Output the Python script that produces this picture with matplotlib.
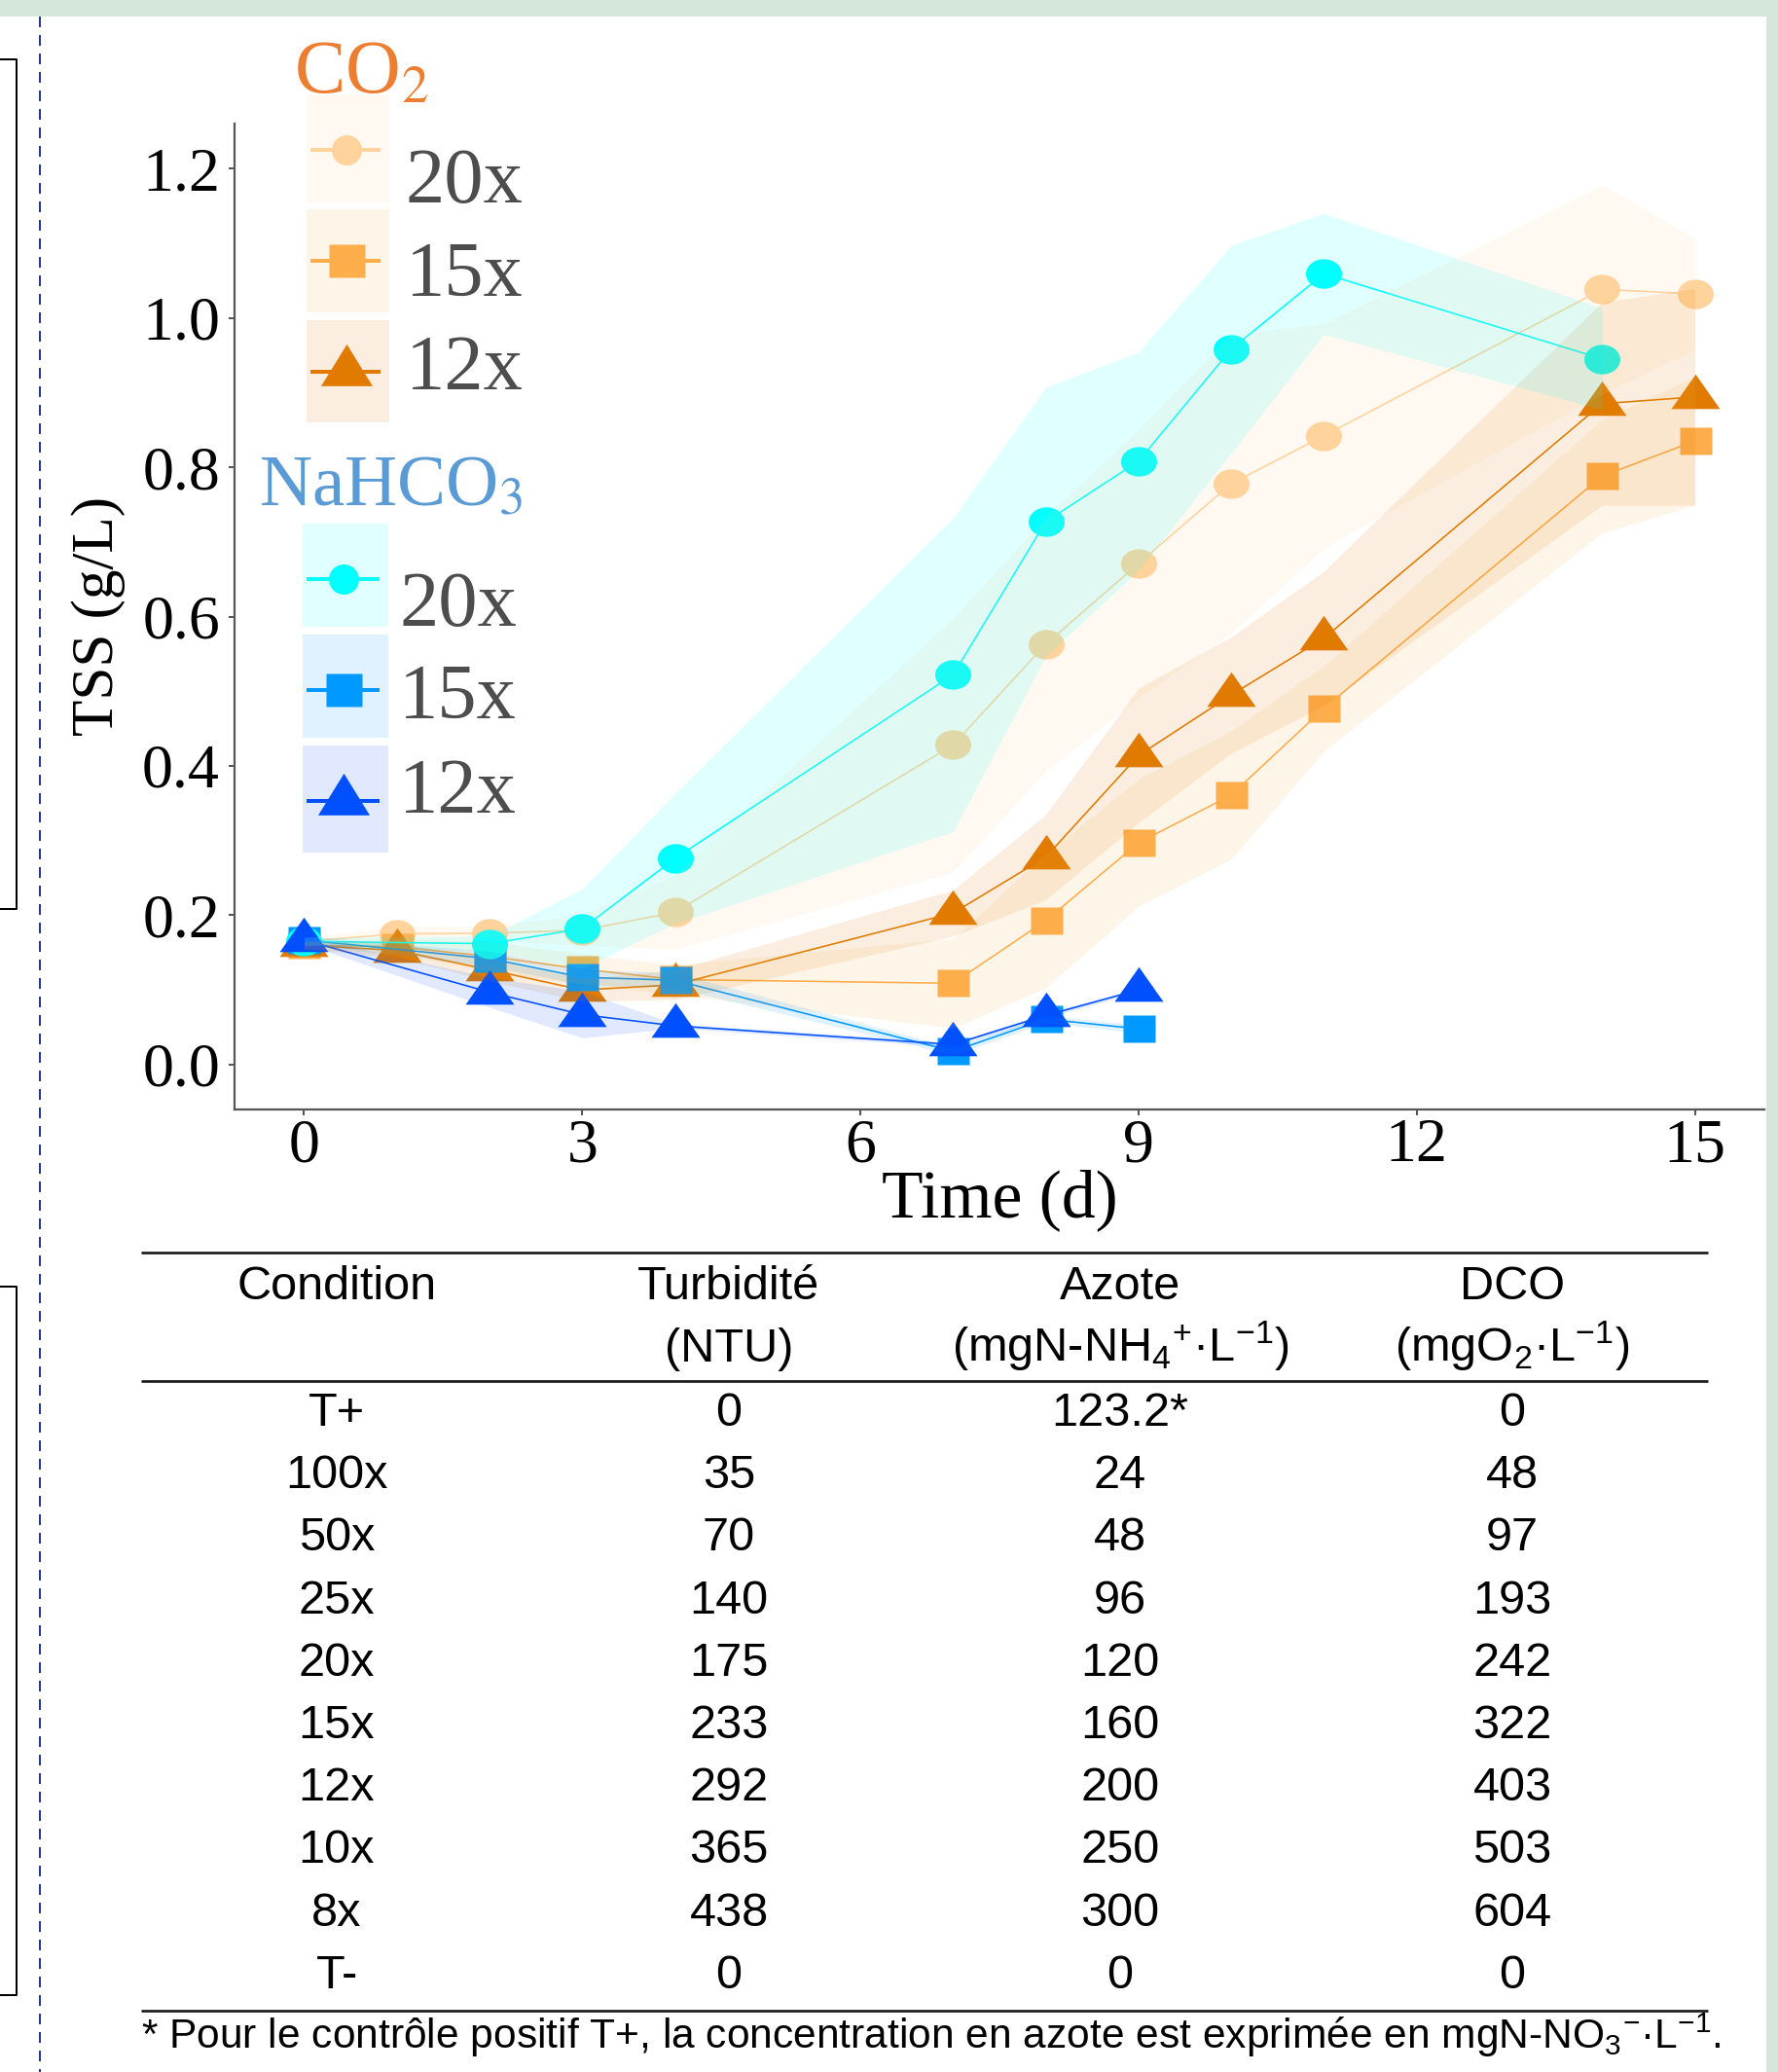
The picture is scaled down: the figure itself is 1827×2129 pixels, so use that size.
import numpy as np
import matplotlib
matplotlib.use("Agg")
import matplotlib.pyplot as plt
from matplotlib.patches import Rectangle
from matplotlib.path import Path

W, H, DPI = 1827, 2129, 100

# TSS (g/L)
days_co2 = [0, 1, 2, 3, 4, 7, 8, 9, 10, 11, 14, 15]
co2_20x = [0.165, 0.175, 0.176, 0.180, 0.204, 0.428, 0.563, 0.671, 0.778, 0.842, 1.038, 1.032]
co2_20x_sd = [0.005, 0.01, 0.01, 0.02, 0.05, 0.17, 0.17, 0.18, 0.20, 0.15, 0.14, 0.075]
co2_15x = [0.160, 0.158, 0.145, 0.128, 0.114, 0.109, 0.193, 0.297, 0.361, 0.477, 0.788, 0.835]
co2_15x_sd = [0.005, 0.01, 0.02, 0.02, 0.02, 0.06, 0.09, 0.085, 0.086, 0.057, 0.076, 0.086]
co2_12x = [0.160, 0.153, 0.127, 0.100, 0.107, 0.203, 0.278, 0.414, 0.495, 0.571, 0.885, 0.894]
co2_12x_sd = [0.005, 0.01, 0.015, 0.015, 0.02, 0.031, 0.057, 0.09, 0.078, 0.09, 0.136, 0.145]

days_na20 = [0, 2, 3, 4, 7, 8, 9, 10, 11, 14]
na_20x = [0.165, 0.162, 0.182, 0.276, 0.522, 0.727, 0.808, 0.958, 1.059, 0.945]
na_20x_sd = [0.005, 0.01, 0.053, 0.087, 0.21, 0.18, 0.146, 0.139, 0.081, 0.068]
days_na = [0, 2, 3, 4, 7, 8, 9]
na_15x = [0.167, 0.142, 0.117, 0.113, 0.018, 0.061, 0.048]
na_15x_sd = [0.005, 0.01, 0.01, 0.01, 0.005, 0.005, 0.005]
na_12x = [0.167, 0.097, 0.067, 0.052, 0.027, 0.066, 0.100]
na_12x_sd = [0.005, 0.02, 0.031, 0.003, 0.003, 0.003, 0.003]

# table
col_heads = ['Condition', 'Turbidité', 'Azote', 'DCO']
col_units = ['', '(NTU)', r'(mgN-NH$_{4}$$^{+}$·L$^{-1}$)', r'(mgO$_{2}$·L$^{-1}$)']
conditions = ['T+', '100x', '50x', '25x', '20x', '15x', '12x', '10x', '8x', 'T-']
turbidite = ['0', '35', '70', '140', '175', '233', '292', '365', '438', '0']
azote = ['123.2*', '24', '48', '96', '120', '160', '200', '250', '300', '0']
dco = ['0', '48', '97', '193', '242', '322', '403', '503', '604', '0']
footnote = r'* Pour le contrôle positif T+, la concentration en azote est exprimée en mgN-NO$_{3}$$^{-}$·L$^{-1}$.'

C_PEACH, C_ORANGE, C_DKORANGE = '#FFD39B', '#FDAD4A', '#E07B00'
C_CYAN, C_BLUE, C_DKBLUE = '#00FFFF', '#0099FF', '#0050FF'


def pt(px):
    return px * 72.0 / DPI


def closed(verts):
    verts = list(verts) + [verts[0]]
    return Path(verts, closed=True)


t = np.linspace(0, 2 * np.pi, 48, endpoint=False)
circ = closed(np.column_stack([np.cos(t), 0.82 * np.sin(t)]))
sq = closed([(-1, -0.82), (1, -0.82), (1, 0.82), (-1, 0.82)])
tri = closed([(0, 0.947), (-1, -0.473), (1, -0.473)])
MK = {'o': (circ, pt(37)), 's': (sq, pt(33)), '^': (tri, pt(50))}

plt.rcParams['font.family'] = 'Liberation Serif'
plt.rcParams['mathtext.rm'] = 'Liberation Sans'
plt.rcParams['mathtext.it'] = 'Liberation Sans:italic'
plt.rcParams['mathtext.bf'] = 'Liberation Sans:bold'

fig = plt.figure(figsize=(W / DPI, H / DPI), dpi=DPI)
ax = fig.add_axes([241 / W, 1 - 1140 / H, (1813 - 241) / W, (1140 - 127) / H])

series = [
    (days_co2, co2_20x, co2_20x_sd, C_PEACH, 'o'),
    (days_co2, co2_15x, co2_15x_sd, C_ORANGE, 's'),
    (days_co2, co2_12x, co2_12x_sd, C_DKORANGE, '^'),
    (days_na, na_15x, na_15x_sd, C_BLUE, 's'),
    (days_na20, na_20x, na_20x_sd, C_CYAN, 'o'),
    (days_na, na_12x, na_12x_sd, C_DKBLUE, '^'),
]
for i, (d, m, s, c, mk) in enumerate(series):
    path, ms = MK[mk]
    ax.plot(d, m, color=c, lw=pt(1.6), marker=path, ms=ms, mec='none', zorder=2 + i * 0.1)
for d, m, s, c, mk in series:
    m, s = np.array(m), np.array(s)
    ax.fill_between(d, m - s, m + s, color=c, alpha=0.12, lw=0, zorder=3)

ax.set_xlim(-0.75, 15.75)
ax.set_ylim(-0.06, 1.26)
ax.set_xticks([0, 3, 6, 9, 12, 15])
ax.set_yticks([0.0, 0.2, 0.4, 0.6, 0.8, 1.0, 1.2])
ax.set_yticklabels(['0.0', '0.2', '0.4', '0.6', '0.8', '1.0', '1.2'])
for side in ['top', 'right']:
    ax.spines[side].set_visible(False)
for side in ['left', 'bottom']:
    ax.spines[side].set_color('#555555')
    ax.spines[side].set_linewidth(pt(2.2))
ax.tick_params(length=pt(6), width=pt(2), color='#555555', labelsize=46, labelcolor='black')
ax.tick_params(axis='y', pad=pt(9))
ax.tick_params(axis='x', pad=pt(3))
ax.set_xlabel('Time (d)', fontsize=50)
ax.xaxis.set_label_coords(0.5, -(1201 - 1140) / 1013)
ax.set_ylabel('TSS (g/L)', fontsize=44, va='center')
ax.yaxis.set_label_coords(-(241 - 101) / 1572, 0.5)

# decorations, legend and table in pixel coordinates
deco = fig.add_axes([0, 0, 1, 1], zorder=5)
deco.set_xlim(0, W)
deco.set_ylim(H, 0)
deco.set_axis_off()
deco.patch.set_visible(False)

deco.add_patch(Rectangle((0, 0), W, 17, color='#D5E6DB', lw=0))
deco.add_patch(Rectangle((1815, 0), W - 1815, H, color='#D5E6DB', lw=0))
deco.plot([41, 41], [17, H], color='#2B3595', lw=pt(2), dashes=(5.5, 4))
deco.plot([0, 17, 17, 0], [61, 61, 934, 934], color='black', lw=pt(2))
deco.plot([0, 17, 17, 0], [1322, 1322, 2050, 2050], color='black', lw=pt(2))

leg_groups = [
    (r'CO$_2$', '#ED7D31', 302, 95, 56.5, 315, 85,
     [(97, 111, 154, 208), (215, 106, 268, 304), (329, 105, 382, 400)],
     [C_PEACH, C_ORANGE, C_DKORANGE], 417),
    (r'NaHCO$_3$', '#5B9BD5', 266, 520, 54, 311, 88,
     [(538, 106, 595, 643), (652, 106, 709, 738), (766, 110, 823, 835)],
     [C_CYAN, C_BLUE, C_DKBLUE], 410),
]
key_labels = ['20x', '15x', '12x']
leg_mk = [(Path.circle(), pt(31)),
          (closed([(-1, -0.9), (1, -0.9), (1, 0.9), (-1, 0.9)]), pt(37)),
          (closed([(0, 1.08), (-1, -0.54), (1, -0.54)]), pt(53 * 1.08))]
for title, tcol, tx, ty, tsize, bx, bw, keys, cols, lx in leg_groups:
    deco.text(tx, ty, title, color=tcol, fontsize=tsize, ha='left', va='baseline',
              math_fontfamily='stix')
    for (by, bh, ly, lbase), c, lab, (path, ms) in zip(keys, cols, key_labels, leg_mk):
        deco.add_patch(Rectangle((bx, by), bw, bh, color=c, alpha=0.12, lw=0))
        deco.plot([bx + 4, bx + bw - 9], [ly, ly], color=c, lw=pt(4), solid_capstyle='butt')
        deco.plot([bx + bw / 2 - 2], [ly], marker=path, ms=ms, color=c, mec='none')
        deco.text(lx, lbase, lab, color='#4D4D4D', fontsize=58, ha='left', va='baseline')

col_x = [346, 749, 1151, 1554]
sans = dict(family='Liberation Sans', fontsize=35, color='black', ha='center',
            va='baseline', math_fontfamily='custom')
for y in [1287, 1419, 2066]:
    deco.plot([145, 1755], [y, y], color='#1A1A1A', lw=pt(2.7), solid_capstyle='butt')
for x, head, unit in zip(col_x, col_heads, col_units):
    deco.text(x, 1335, head, **sans)
    if unit:
        deco.text(x, 1399, unit, **sans)
for k, row in enumerate(zip(conditions, turbidite, azote, dco)):
    for x, val in zip(col_x, row):
        deco.text(x, 1465 + 64.2 * k, val, **sans)
deco.text(145, 2105, footnote, **{**sans, 'ha': 'left', 'fontsize': 30.6})

fig.savefig('out.png', dpi=DPI)
